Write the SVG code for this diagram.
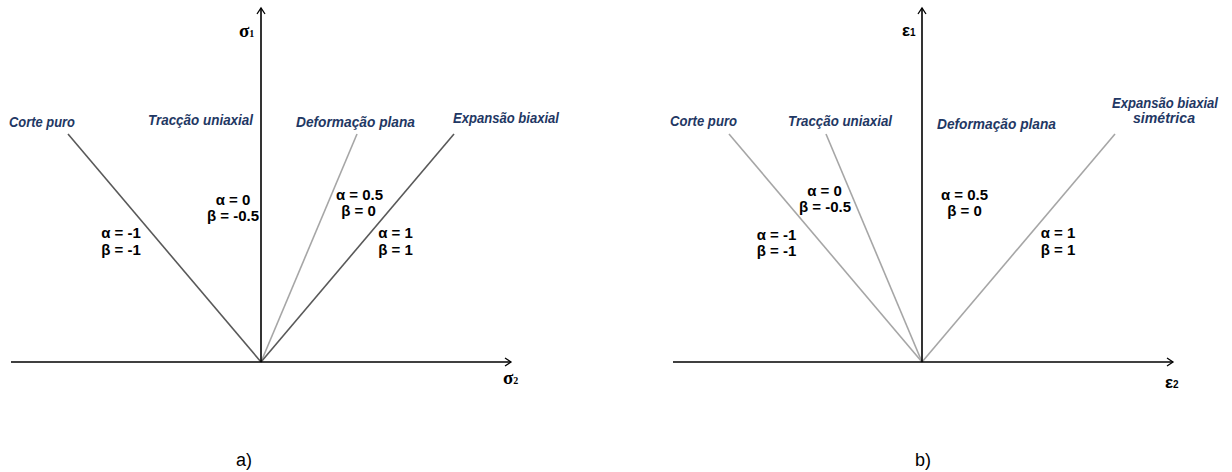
<svg xmlns="http://www.w3.org/2000/svg" width="1232" height="472" viewBox="0 0 1232 472">
<defs>
<marker id="arr" markerWidth="12" markerHeight="12" refX="9" refY="6" orient="auto" markerUnits="userSpaceOnUse">
<path d="M3,2 L9,6 L3,10" fill="none" stroke="#000" stroke-width="1.3"/>
</marker>
<style>
.axis{stroke:#000;stroke-width:1.6;fill:none}
.dark{stroke:#595959;stroke-width:1.6;fill:none}
.light{stroke:#a6a6a6;stroke-width:1.6;fill:none}
.lab{font-family:"Liberation Sans",Arial,sans-serif;font-style:italic;font-weight:bold;font-size:14.5px;fill:#1f3864}
.par{font-family:"Liberation Sans",Arial,sans-serif;font-weight:bold;font-size:15px;fill:#000;text-anchor:middle}
.sig{font-family:"Liberation Serif","Times New Roman",serif;font-weight:bold;font-size:19px;fill:#000}
.eps{font-family:"Liberation Sans",Arial,sans-serif;font-weight:bold;font-size:17px;fill:#000}
.sub{font-size:10px}
.cap{font-family:"Liberation Sans",Arial,sans-serif;font-size:18px;fill:#000}
</style>
</defs>
<rect width="1232" height="472" fill="#fff"/>
<g id="connectors">
<line class="dark" x1="68" y1="134" x2="261" y2="362"/>
<line class="light" x1="357" y1="134" x2="261" y2="362"/>
<line class="dark" x1="454" y1="134" x2="261" y2="362"/>
<line class="light" x1="729" y1="134" x2="922" y2="362"/>
<line class="light" x1="826" y1="134" x2="922" y2="362"/>
<line class="light" x1="1115" y1="134" x2="922" y2="362"/>
</g>
<g id="axes-a">
<line class="axis" x1="261" y1="362" x2="261" y2="8" marker-end="url(#arr)"/>
<line class="axis" x1="11" y1="362" x2="511" y2="362" marker-end="url(#arr)"/>
</g>
<g id="axes-b">
<line class="axis" x1="922" y1="362" x2="922" y2="8" marker-end="url(#arr)"/>
<line class="axis" x1="673" y1="362" x2="1173" y2="362" marker-end="url(#arr)"/>
</g>
<g id="labels-a">
<text class="sig" x="239" y="37">σ<tspan class="sub">1</tspan></text>
<text class="sig" x="503" y="384">σ<tspan class="sub">2</tspan></text>
<text class="lab" x="9" y="127" textLength="66" lengthAdjust="spacingAndGlyphs">Corte puro</text>
<text class="lab" x="148" y="125" textLength="105" lengthAdjust="spacingAndGlyphs">Tracção uniaxial</text>
<text class="lab" x="296" y="127" textLength="119" lengthAdjust="spacingAndGlyphs">Deformação plana</text>
<text class="lab" x="453" y="123" textLength="106" lengthAdjust="spacingAndGlyphs">Expansão biaxial</text>
<text class="par" x="233" y="205">α = 0</text>
<text class="par" x="233" y="221">β = -0.5</text>
<text class="par" x="121" y="238">α = -1</text>
<text class="par" x="121" y="255">β = -1</text>
<text class="par" x="359.5" y="200">α = 0.5</text>
<text class="par" x="358.5" y="216">β = 0</text>
<text class="par" x="395.5" y="238">α = 1</text>
<text class="par" x="395.5" y="255">β = 1</text>
<text class="cap" x="236" y="466">a)</text>
</g>
<g id="labels-b">
<text class="eps" x="902" y="36">ε<tspan class="sub">1</tspan></text>
<text class="eps" x="1165" y="388">ε<tspan class="sub">2</tspan></text>
<text class="lab" x="670" y="126" textLength="67" lengthAdjust="spacingAndGlyphs">Corte puro</text>
<text class="lab" x="788" y="126" textLength="104" lengthAdjust="spacingAndGlyphs">Tracção uniaxial</text>
<text class="lab" x="937" y="129" textLength="119" lengthAdjust="spacingAndGlyphs">Deformação plana</text>
<text class="lab" x="1112" y="108" textLength="106" lengthAdjust="spacingAndGlyphs">Expansão biaxial</text>
<text class="lab" x="1133" y="123" textLength="62" lengthAdjust="spacingAndGlyphs">simétrica</text>
<text class="par" x="824.5" y="196">α = 0</text>
<text class="par" x="825" y="212">β = -0.5</text>
<text class="par" x="776.5" y="240">α = -1</text>
<text class="par" x="776.5" y="256">β = -1</text>
<text class="par" x="964.5" y="200">α = 0.5</text>
<text class="par" x="964.5" y="216">β = 0</text>
<text class="par" x="1058" y="238">α = 1</text>
<text class="par" x="1058" y="255">β = 1</text>
<text class="cap" x="915" y="466">b)</text>
</g>
</svg>
